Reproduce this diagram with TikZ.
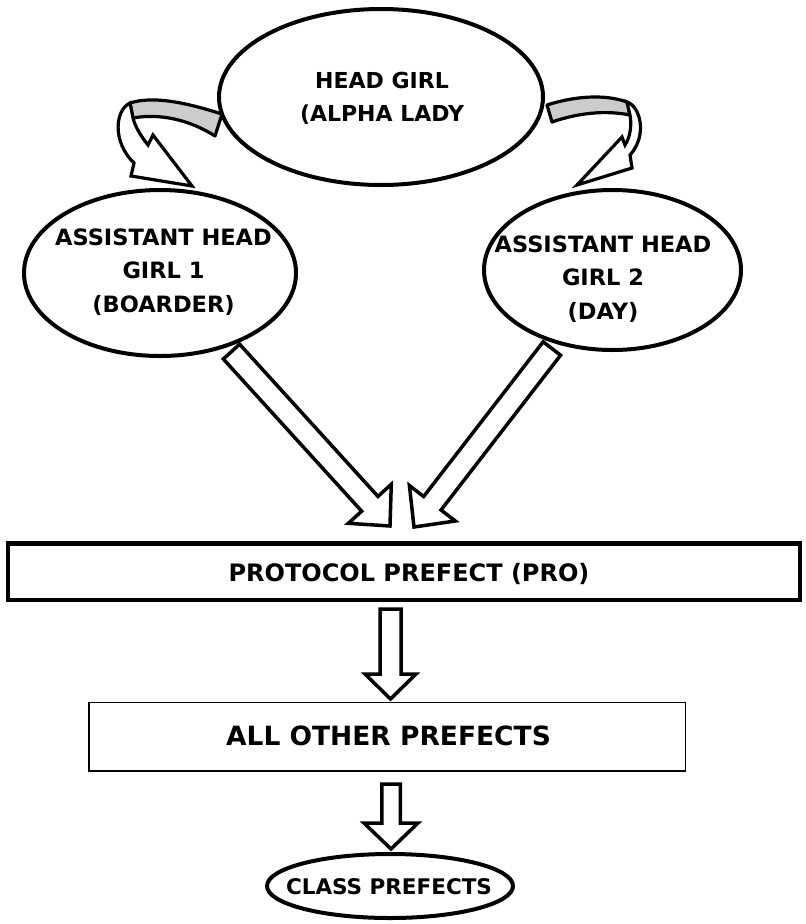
\documentclass[tikz,border=0pt]{standalone}
\usepackage{fontspec}
\setmainfont{DejaVu Sans}
\usetikzlibrary{calc,shapes.geometric}
\tikzset{
  ell/.style={draw=black, line width=4pt, ellipse, fill=white, inner sep=0pt},
  lbl/.style={inner sep=0pt, align=center, font=\bfseries\fontsize{22.5}{33.5}\selectfont},
  blk/.style={draw=black, line width=3.5pt, fill=white, line join=miter},
  band/.style={draw=black, line width=3.2pt, fill=gray!40, line join=round},
  curl/.style={draw=black, line width=3.2pt, fill=white, line join=miter},
}
\newcommand{\blockarr}[6]{%
  \coordinate (hb) at ($(#2)!#5!(#1)$);
  \draw[#6] ($(#1)!#3!90:(#2)$) -- ($(hb)!#3!90:(#2)$) -- ($(hb)!#4!90:(#2)$) -- (#2)
    -- ($(hb)!#4!-90:(#2)$) -- ($(hb)!#3!-90:(#2)$) -- ($(#1)!#3!-90:(#2)$) -- cycle;
}
\begin{document}
\begin{tikzpicture}[x=1pt,y=-1pt]
\useasboundingbox (0,0) rectangle (806,924);
% shapes
\node[ell, minimum width=324pt, minimum height=176pt] (hg) at (381,97) {};
\node[ell, minimum width=272pt, minimum height=166pt] (ag1) at (160,273) {};
\node[ell, minimum width=257pt, minimum height=160pt] (ag2) at (612.5,270) {};
\node[draw=black, line width=4.5pt, minimum width=792pt, minimum height=56.5pt, inner sep=0pt] (pro) at (404,571.75) {};
\node[draw=black, line width=1.5pt, minimum width=596.5pt, minimum height=68.5pt, inner sep=0pt] (aop) at (387,736.75) {};
\node[ell, minimum width=246pt, minimum height=64pt] (cp) at (390,886) {};
% ribbons
\draw[band] (222,114) .. controls (190,104) and (155,95) .. (130,103) -- (133,118) .. controls (160,113) and (190,120) .. (215,136) -- cycle;
\draw[curl] (130,103) .. controls (115,110) and (112,142) .. (134,163) -- (131,176) -- (192,186) -- (153,135) -- (148,145) .. controls (140,135) and (135,126) .. (133,118) -- cycle;
\draw[band] (547,105) .. controls (575,96) and (605,94) .. (627,102) -- (630,115) .. controls (605,110) and (578,113) .. (552,122) -- cycle;
\draw[curl] (627,102) .. controls (640,106) and (648,135) .. (630,155) -- (632,168) -- (577,185) -- (622,137) -- (625,145) .. controls (630,138) and (632,125) .. (630,115) -- cycle;
% block arrows
\coordinate (tL) at (390,526);
\coordinate (tR) at (414,527);
\path (ag1) -- (tL) coordinate[pos=0] (sL0);
\path (ag2) -- (tR) coordinate[pos=0] (sR0);
\coordinate (sL) at ($(sL0)!6pt!(tL)$);
\coordinate (sR) at ($(sR0)!6pt!(tR)$);
\blockarr{sL}{tL}{11pt}{29pt}{30pt}{blk}
\blockarr{sR}{tR}{11pt}{29pt}{30pt}{blk}
\coordinate (d1a) at (390.5,609);
\coordinate (d1b) at (390.5,699);
\blockarr{d1a}{d1b}{10.5pt}{25.5pt}{25pt}{blk}
\coordinate (d2a) at (391,784);
\coordinate (d2b) at (391,849);
\blockarr{d2a}{d2b}{9.25pt}{27pt}{26pt}{blk}
% texts
\node[lbl, font=\bfseries\fontsize{22}{33}\selectfont] (hgt) at (382,98.5) {HEAD GIRL\\(ALPHA LADY};
\node[lbl] (ag1t) at (163.5,271.7) {ASSISTANT HEAD\\GIRL 1\\(BOARDER)};
\node[lbl] (ag2t) at (603,279) {ASSISTANT HEAD\\GIRL 2\\(DAY)};
\node[lbl, font=\bfseries\fontsize{24}{28}\selectfont] (prot) at (409,574) {PROTOCOL PREFECT (PRO)};
\node[lbl, font=\bfseries\fontsize{26.5}{30}\selectfont] (aopt) at (388.5,736) {ALL OTHER PREFECTS};
\node[lbl, font=\bfseries\fontsize{21.5}{26}\selectfont] (cpt) at (389,887) {CLASS PREFECTS};
\end{tikzpicture}
\end{document}
